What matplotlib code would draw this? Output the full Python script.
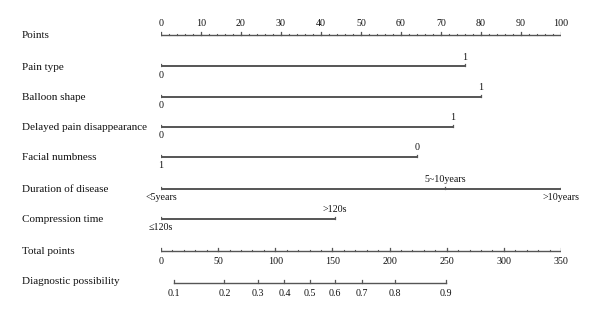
import matplotlib.pyplot as plt
import numpy as np

plt.rcParams["font.family"] = ["Liberation Serif", "DejaVu Serif"]

# variable rows: name, level labels, points for each level
var_names = ["Pain type", "Balloon shape", "Delayed pain disappearance",
             "Facial numbness", "Duration of disease", "Compression time"]
var_levels = [["0", "1"], ["0", "1"], ["0", "1"], ["1", "0"],
              ["<5years", "5~10years", ">10years"], ["≤120s", ">120s"]]
var_points = [[0, 76], [0, 80], [0, 73], [0, 64], [0, 71, 100], [0, 43.5]]

points_major = list(range(0, 101, 10))
points_minor = list(range(0, 101, 2))
total_major = list(range(0, 351, 50))
total_minor = list(range(0, 351, 10))
total_max = 350

prob_labels = ["0.1", "0.2", "0.3", "0.4", "0.5", "0.6", "0.7", "0.8", "0.9"]
prob_total = [11.6, 55.4, 85, 108, 130, 152, 176, 205, 249]

W, H = 600, 316
fig = plt.figure(figsize=(6, 3.16), dpi=100)
ax = fig.add_axes([161 / W, 0, 400 / W, 1])
ax.set_xlim(0, 100)
ax.set_ylim(H, 0)
ax.axis("off")

lc = "#555555"
tc = "#111111"
fs_lab = 8
fs_tick = 7.2
px = 100 / 400  # data units per pixel in x
lab_x = 22 * px - 161 * px


def label(y, text):
    ax.text(lab_x, y, text, ha="left", va="center", fontsize=fs_lab, color=tc)


# Points axis
label(35, "Points")
y0 = 35
ax.plot([0, 100], [y0, y0], color=lc, lw=1.0)
for v in points_minor:
    ax.plot([v, v], [y0, y0 - 1.5], color=lc, lw=0.8)
for v in points_major:
    ax.plot([v, v], [y0, y0 - 3], color=lc, lw=0.9)
    ax.text(v, y0 - 12, str(v), ha="center", va="center", fontsize=fs_tick, color=tc)

# variable rows
row_y = [66, 97, 127, 157, 189, 219]
for name, levels, pts, y in zip(var_names, var_levels, var_points, row_y):
    label(y + 1, name)
    ax.plot([min(pts), max(pts)], [y, y], color=lc, lw=1.4)
    for i, (lv, p) in enumerate(zip(levels, pts)):
        ax.plot([p, p], [y, y - 2.5], color=lc, lw=0.9)
        if i % 2 == 0:
            ax.text(p, y + 9, lv, ha="center", va="center", fontsize=fs_tick, color=tc)
        else:
            ax.text(p, y - 9, lv, ha="center", va="center", fontsize=fs_tick, color=tc)

# Total points axis
label(251, "Total points")
yt = 251
ax.plot([0, 100], [yt, yt], color=lc, lw=1.0)
for v in total_minor:
    x = v * 100 / total_max
    ax.plot([x, x], [yt, yt - 1.5], color=lc, lw=0.8)
for v in total_major:
    x = v * 100 / total_max
    ax.plot([x, x], [yt, yt - 3], color=lc, lw=0.9)
    ax.text(x, yt + 10, str(v), ha="center", va="center", fontsize=fs_tick, color=tc)

# Diagnostic possibility axis
label(282, "Diagnostic possibility")
yd = 283
xs = [t * 100 / total_max for t in prob_total]
ax.plot([xs[0], xs[-1]], [yd, yd], color=lc, lw=1.0)
for x, s in zip(xs, prob_labels):
    ax.plot([x, x], [yd, yd - 3], color=lc, lw=0.9)
    ax.text(x, yd + 10, s, ha="center", va="center", fontsize=fs_tick, color=tc)

fig.savefig("out.png", dpi=100, facecolor="white")
